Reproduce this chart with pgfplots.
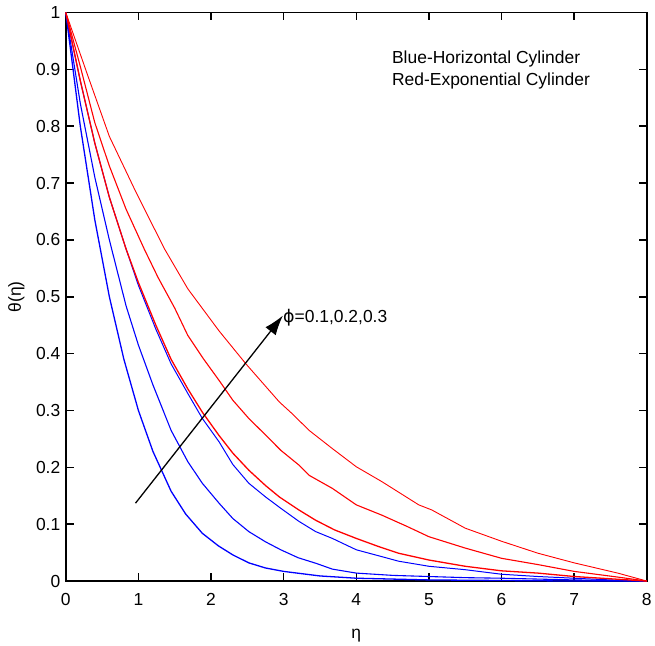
\documentclass[border=0pt]{standalone}
\usepackage{fontspec}
\setmainfont{Liberation Sans}
\newfontfamily\dejavu{DejaVu Sans}
\usepackage{pgfplots}
\pgfplotsset{compat=1.18}
\usetikzlibrary{arrows.meta}
\definecolor{mblue}{RGB}{0,0,255}
\definecolor{mred}{RGB}{255,0,0}
\begin{document}
\begin{tikzpicture}
\begin{axis}[
  scale only axis,
  width=583bp, height=570.5bp,
  xmin=0, xmax=8, ymin=0, ymax=1,
  xtick={0,1,...,8},
  ytick={0,0.1,0.2,0.3,0.4,0.5,0.6,0.7,0.8,0.9,1},
  yticklabels={0,0.1,0.2,0.3,0.4,0.5,0.6,0.7,0.8,0.9,1},
  tick align=inside,
  major tick length=8bp,
  every tick/.style={black, line width=1.6bp},
  axis line style={line width=1.8bp},
  font=\fontsize{17.5bp}{20bp}\selectfont,
  /pgf/number format/assume math mode=true,
  xticklabel style={yshift=-9bp},
  yticklabel style={xshift=-2bp},
  xlabel={η},
  ylabel={θ(η)},
  xlabel style={at={(rel axis cs:0.5,0)}, anchor=center, yshift=-55bp},
  ylabel style={at={(rel axis cs:0,0.5)}, anchor=south, yshift=38bp},
  clip=false,
]
% Blue - Horizontal cylinder
\addplot[mblue, line width=1.3bp] coordinates {
(0,1) (0.2,0.80) (0.4,0.635) (0.6,0.50) (0.8,0.39) (1.0,0.30) (1.2,0.228)
(1.45,0.158) (1.65,0.118) (1.88,0.084) (2.1,0.062) (2.3,0.046) (2.52,0.032)
(2.75,0.023) (3.0,0.017) (3.5,0.009) (4,0.005) (5,0.002) (6,0.001) (7,0) (8,0)};
\addplot[mblue, line width=1.1bp] coordinates {
(0,1) (0.2,0.84) (0.4,0.71) (0.6,0.60) (0.83,0.484) (1.0,0.415) (1.2,0.345)
(1.45,0.265) (1.68,0.21) (1.88,0.172) (2.11,0.137) (2.3,0.110) (2.52,0.087)
(2.75,0.069) (2.96,0.055) (3.2,0.041) (3.45,0.031) (3.67,0.021) (4.0,0.014)
(4.5,0.010) (5,0.008) (5.5,0.006) (6,0.005) (7,0.002) (8,0)};
\addplot[mblue, line width=1.0bp] coordinates {
(0,1) (0.2,0.88) (0.4,0.77) (0.6,0.675) (0.83,0.584) (1.0,0.52) (1.24,0.443)
(1.45,0.382) (1.68,0.33) (1.88,0.286) (2.11,0.245) (2.3,0.205) (2.52,0.172)
(2.75,0.148) (2.96,0.128) (3.21,0.105) (3.44,0.087) (3.67,0.075) (4.0,0.055)
(4.35,0.043) (4.58,0.035) (5.0,0.026) (5.5,0.020) (6.0,0.012) (6.5,0.008)
(7,0.005) (7.5,0.002) (8,0)};
% Red - Exponential cylinder
\addplot[mred, line width=1.3bp] coordinates {
(0,1) (0.2,0.88) (0.4,0.77) (0.6,0.675) (0.83,0.584) (1.0,0.525) (1.24,0.45)
(1.45,0.39) (1.68,0.338) (1.88,0.297) (2.11,0.256) (2.3,0.225) (2.52,0.195)
(2.75,0.168) (2.94,0.148) (3.21,0.125) (3.44,0.107) (3.7,0.09) (4.0,0.075)
(4.3,0.061) (4.58,0.049) (5.0,0.037) (5.5,0.026) (6.0,0.018) (6.5,0.014)
(7.0,0.008) (7.5,0.004) (8,0)};
\addplot[mred, line width=1.1bp] coordinates {
(0,1) (0.2,0.905) (0.4,0.806) (0.6,0.73) (0.83,0.654) (1.08,0.584) (1.27,0.534)
(1.5,0.48) (1.68,0.432) (1.9,0.39) (2.11,0.353) (2.3,0.318) (2.52,0.286)
(2.75,0.257) (2.96,0.230) (3.21,0.204) (3.35,0.186) (3.67,0.163) (4.0,0.134)
(4.35,0.116) (4.7,0.096) (5.0,0.078) (5.5,0.058) (6.0,0.040) (6.5,0.029)
(7.0,0.017) (7.6,0.007) (8,0)};
\addplot[mred, line width=0.9bp] coordinates {
(0,1) (0.3,0.89) (0.6,0.782) (0.97,0.683) (1.36,0.584) (1.68,0.514) (2.11,0.440)
(2.48,0.382) (2.94,0.315) (3.12,0.294) (3.35,0.265) (3.67,0.233) (4.0,0.201)
(4.35,0.175) (4.86,0.134) (5.04,0.125) (5.5,0.093) (6.0,0.070) (6.5,0.049)
(7.0,0.032) (7.6,0.014) (8,0)};
% annotations
\draw[black, line width=1.3bp, -{Latex[length=20bp, width=13bp]}] (axis cs:0.96,0.137) -- (axis cs:2.99,0.467);
\node[anchor=west, inner sep=0pt] at (axis cs:2.99,0.464) {{\dejavu ϕ}=0.1,0.2,0.3};
\node[anchor=west, inner sep=0pt] at (axis cs:4.49,0.919) {Blue-Horizontal Cylinder};
\node[anchor=west, inner sep=0pt] at (axis cs:4.49,0.880) {Red-Exponential Cylinder};
\end{axis}
\path ([shift={(-66bp,-65bp)}]current axis.south west) rectangle ([shift={(6bp,12.5bp)}]current axis.north east);
\end{tikzpicture}
\end{document}
